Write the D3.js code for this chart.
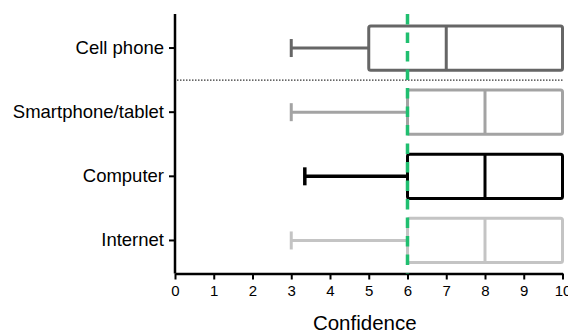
<!DOCTYPE html>
<html>
<head>
<meta charset="utf-8">
<script src="https://cdn.jsdelivr.net/npm/d3@7"></script>
<style>
  body { margin: 0; background: #fff; }
  svg { font-family: "Liberation Sans", Arial, sans-serif; }
</style>
</head>
<body>
<div id="chart"></div>
<script>
// data
var categories = ["Cell phone", "Smartphone/tablet", "Computer", "Internet"];
var mins = [3, 3, 3.35, 3];
var q1s = [5, 6, 6, 6];
var medians = [7, 8, 8, 8];
var q3s = [10, 10, 10, 10];
var maxs = [10, 10, 10, 10];
var colors = ["#666666", "#a3a3a3", "#000000", "#c4c4c4"];
var threshold = 6;
var xTicks = [0, 1, 2, 3, 4, 5, 6, 7, 8, 9, 10];

const width = 568, height = 333;
const margin = {top: 14, right: 5.5, bottom: 59.5, left: 175};

const rows = categories.map((c, i) => ({
  name: c, min: mins[i], q1: q1s[i], med: medians[i], q3: q3s[i], max: maxs[i], color: colors[i]
}));

const svg = d3.select("#chart").append("svg")
    .attr("width", width)
    .attr("height", height);

const x = d3.scaleLinear().domain([0, 10]).range([margin.left, width - margin.right]);
const y = d3.scaleBand().domain(categories)
    .range([margin.top + 1, height - margin.bottom])
    .paddingInner(0.31).paddingOuter(0.17);

// separator between cell phone and the rest
const sepY = (y(categories[0]) + y.bandwidth() + y(categories[1])) / 2;
svg.append("line")
    .attr("x1", x(0) + 2).attr("x2", x(10))
    .attr("y1", sepY).attr("y2", sepY)
    .attr("stroke", "#000").attr("stroke-width", 1)
    .attr("stroke-dasharray", "1.5,1.5");

const g = svg.append("g").selectAll("g").data(rows).join("g");

// whisker
g.append("line")
    .attr("x1", d => x(d.min)).attr("x2", d => x(d.q1))
    .attr("y1", d => y(d.name) + y.bandwidth() / 2)
    .attr("y2", d => y(d.name) + y.bandwidth() / 2)
    .attr("stroke", d => d.color)
    .attr("stroke-width", d => d.name === "Computer" ? 3.5 : 3);

g.append("line")
    .attr("x1", d => x(d.min)).attr("x2", d => x(d.min))
    .attr("y1", d => y(d.name) + y.bandwidth() / 2 - 9)
    .attr("y2", d => y(d.name) + y.bandwidth() / 2 + 9)
    .attr("stroke", d => d.color)
    .attr("stroke-width", d => d.name === "Computer" ? 3.5 : 3);

// box
g.append("rect")
    .attr("x", d => x(d.q1)).attr("y", d => y(d.name))
    .attr("width", d => x(d.q3) - x(d.q1))
    .attr("height", y.bandwidth())
    .attr("rx", 2)
    .attr("fill", "none")
    .attr("stroke", d => d.color)
    .attr("stroke-width", 3);

// median
g.append("line")
    .attr("x1", d => x(d.med)).attr("x2", d => x(d.med))
    .attr("y1", d => y(d.name)).attr("y2", d => y(d.name) + y.bandwidth())
    .attr("stroke", d => d.color)
    .attr("stroke-width", 3);

// x axis
const xAxis = svg.append("g")
    .attr("transform", `translate(0,${height - margin.bottom})`)
    .attr("font-size", 15)
    .call(d3.axisBottom(x).tickValues(xTicks).tickSize(6).tickPadding(6).tickSizeOuter(0));
xAxis.attr("font-size", 15).attr("font-family", "Liberation Sans, Arial, sans-serif");
xAxis.select(".domain").attr("stroke-width", 2.5);
xAxis.selectAll(".tick line").attr("stroke-width", 2);
xAxis.selectAll("text").attr("fill", "#000");

// y axis
const yAxis = svg.append("g")
    .attr("transform", `translate(${margin.left},0)`)
    .call(d3.axisLeft(y).tickSize(6).tickPadding(5).tickSizeOuter(0));
yAxis.attr("font-size", 18.5).attr("font-family", "Liberation Sans, Arial, sans-serif");
yAxis.select(".domain").attr("d", `M0,${margin.top}V${height - margin.bottom}`).attr("stroke-width", 2.5);
yAxis.selectAll(".tick line").attr("stroke-width", 2);
yAxis.selectAll("text").attr("fill", "#000");

// threshold line
svg.append("line")
    .attr("x1", x(threshold)).attr("x2", x(threshold))
    .attr("y1", margin.top).attr("y2", height - margin.bottom)
    .attr("stroke", "#20bf70").attr("stroke-width", 3.5)
    .attr("stroke-dasharray", "10.5,8");

// axis title
svg.append("text")
    .attr("x", (x(0) + x(10)) / 2 - 4)
    .attr("y", height - 3)
    .attr("text-anchor", "middle")
    .attr("font-size", 20.5)
    .text("Confidence");
</script>
</body>
</html>
